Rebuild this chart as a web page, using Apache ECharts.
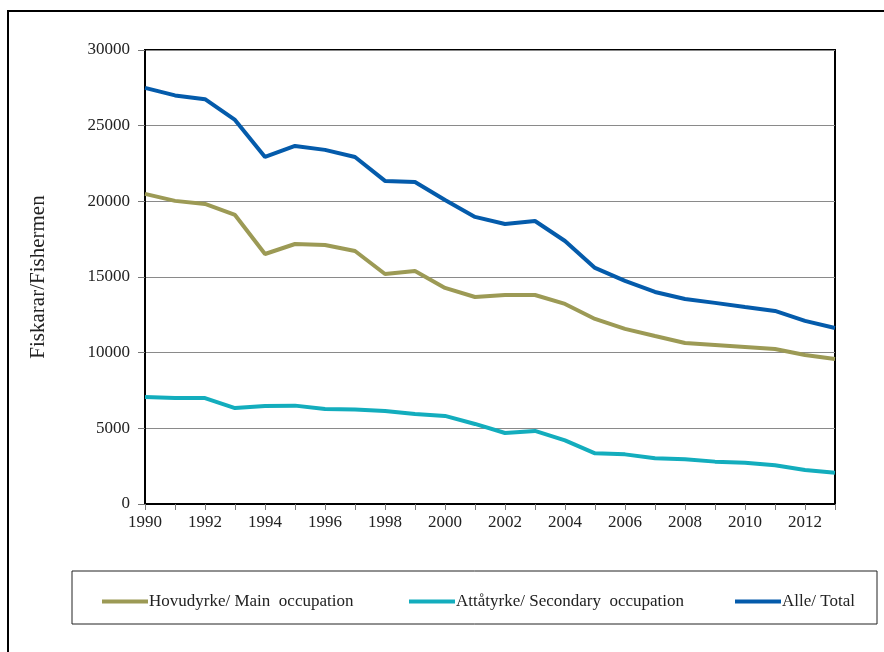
<!DOCTYPE html>
<html>
<head>
<meta charset="utf-8">
<style>
  html, body { margin: 0; padding: 0; background: #fff; }
  #chart { width: 884px; height: 652px; }
</style>
<script src="https://cdn.jsdelivr.net/npm/echarts@6/dist/echarts.min.js"></script>
</head>
<body>
<div id="chart"></div>
<script>
// år 1990-2013
const years = ['1990','1991','1992','1993','1994','1995','1996','1997','1998','1999','2000','2001',
  '2002','2003','2004','2005','2006','2007','2008','2009','2010','2011','2012','2013']

const hovudyrke = [20490, 20030, 19830, 19100, 16520, 17180, 17120, 16720, 15200, 15400, 14280, 13680,
  13810, 13810, 13220, 12230, 11570, 11100, 10640, 10510, 10380, 10240, 9850, 9580]

const attatyrke = [7070, 7000, 7000, 6340, 6480, 6500, 6280, 6250, 6150, 5950, 5820, 5290,
  4690, 4830, 4200, 3350, 3280, 3030, 2950, 2800, 2720, 2560, 2250, 2070]

const alle = [27500, 27000, 26750, 25380, 22930, 23660, 23400, 22930, 21350, 21280, 20090, 18970,
  18500, 18700, 17380, 15600, 14740, 14010, 13550, 13290, 13020, 12760, 12100, 11630]

const names = ['Hovudyrke/ Main  occupation', 'Attåtyrke/ Secondary  occupation', 'Alle/ Total']
const colors = ['#9c9a55', '#13adbd', '#045bab']

const font = 'Liberation Serif'
const chart = echarts.init(document.getElementById('chart'))

const mkLegend = (i, left) => ({
  data: [names[i]],
  left: left,
  top: 588,
  icon: 'rect',
  itemWidth: 46,
  itemHeight: 4,
  itemGap: 0,
  textStyle: { fontFamily: font, fontSize: 17, color: '#222', padding: [0, 0, 0, -4] }
})

const option = {
  backgroundColor: '#fff',
  animation: false,
  graphic: [
    // ytre ramme (berre venstre og topp synleg)
    { type: 'rect', shape: { x: 8, y: 11, width: 1000, height: 1000 },
      style: { fill: 'none', stroke: '#000', lineWidth: 2 } },
    // ramme rundt forklaring
    { type: 'rect', shape: { x: 72, y: 571, width: 805, height: 53 },
      style: { fill: 'none', stroke: '#222', lineWidth: 1 } }
  ],
  legend: [mkLegend(0, 97), mkLegend(1, 404), mkLegend(2, 730)],
  grid: {
    left: 145,
    right: 49,
    top: 50,
    bottom: 148,
    show: true,
    borderColor: '#000',
    borderWidth: 2
  },
  xAxis: {
    type: 'category',
    data: years,
    boundaryGap: false,
    axisLine: { lineStyle: { color: '#000', width: 2 } },
    axisTick: { show: true, interval: 0, length: 6, lineStyle: { color: '#777' } },
    axisLabel: { interval: 1, color: '#222', fontFamily: font, fontSize: 17, margin: 10 },
    splitLine: { show: false }
  },
  yAxis: {
    type: 'value',
    min: 0,
    max: 30000,
    interval: 5000,
    name: 'Fiskarar/Fishermen',
    nameLocation: 'middle',
    nameGap: 96,
    nameTextStyle: { fontFamily: font, fontSize: 21, color: '#222' },
    axisLine: { show: true, lineStyle: { color: '#000', width: 2 } },
    axisTick: { show: true, length: 7, lineStyle: { color: '#777' } },
    axisLabel: { color: '#222', fontFamily: font, fontSize: 17, margin: 15, formatter: v => String(v) },
    splitLine: { lineStyle: { color: '#8a8a8a', width: 1 } }
  },
  series: names.map((n, i) => ({
    name: n,
    type: 'line',
    data: [hovudyrke, attatyrke, alle][i],
    symbol: 'none',
    lineStyle: { color: colors[i], width: 4 },
    itemStyle: { color: colors[i] }
  }))
}

chart.setOption(option)
</script>
</body>
</html>
